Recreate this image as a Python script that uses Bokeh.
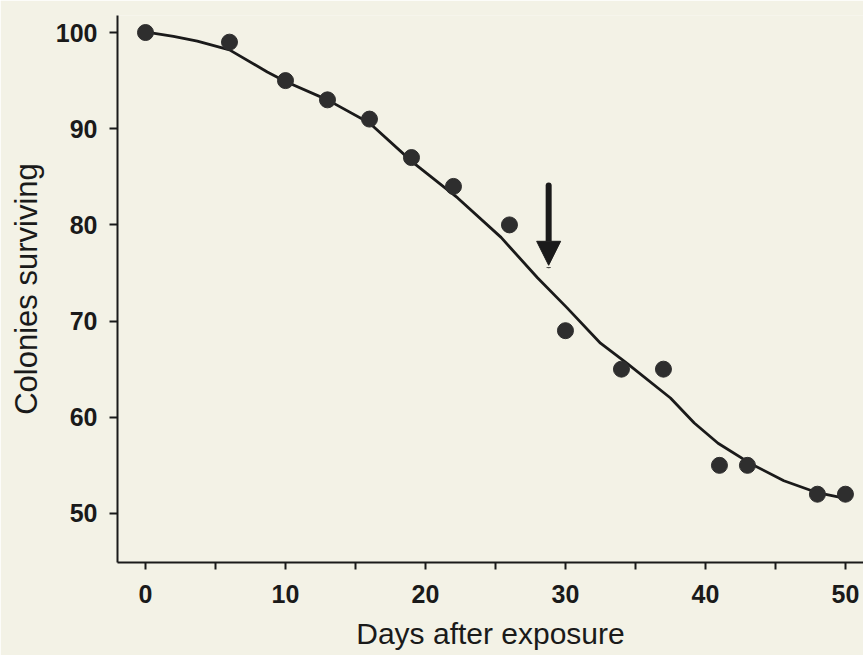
from bokeh.plotting import figure
from bokeh.models import Range1d, FixedTicker, Arrow, NormalHead
from bokeh.embed import file_html
from bokeh.resources import INLINE

# Observed data
days = [0, 6, 10, 13, 16, 19, 22, 26, 30, 34, 37, 41, 43, 48, 50]
surviving = [100, 99, 95, 93, 91, 87, 84, 80, 69, 65, 65, 55, 55, 52, 52]

# Fitted curve
fit_x = [0.3, 2.0, 3.7, 6, 8.7, 10, 13, 16, 19.1, 22.3, 25.4, 28.0, 30.1, 32.5, 34.4,
         37.5, 39.2, 40.9, 43.2, 45.6, 47.9, 49.9]
fit_y = [100, 99.6, 99.1, 98.2, 95.9, 94.9, 93.0, 90.6, 86.5, 82.8, 78.7, 74.5, 71.4,
         67.7, 65.6, 62.0, 59.4, 57.3, 55.2, 53.4, 52.2, 51.6]

# Arrow marker
arrow_x = 28.8
arrow_top = 84.1
arrow_tip = 75.8

x_ticks = [0, 10, 20, 30, 40, 50]
x_minor = [5, 15, 25, 35, 45]
y_ticks = [50, 60, 70, 80, 90, 100]

BG = "#f3f2e6"
INK = "#1a1a1a"

p = figure(width=863, height=655, output_backend="svg", toolbar_location=None,
           x_range=Range1d(-2.0, 51.29), y_range=Range1d(44.9, 101.77),
           min_border_left=117, min_border_right=0, min_border_top=15,
           min_border_bottom=93)
p.background_fill_color = BG
p.border_fill_color = BG
p.outline_line_color = None
p.grid.visible = False

p.line(fit_x, fit_y, line_color=INK, line_width=2.8, line_join="round")
p.scatter(days, surviving, size=16, fill_color="#2e2e2e", line_color="#2e2e2e")

p.add_layout(Arrow(end=NormalHead(size=24, fill_color=INK, line_color=INK, line_width=1),
                   x_start=arrow_x, y_start=arrow_top, x_end=arrow_x, y_end=arrow_tip,
                   line_color=INK, line_width=6, line_cap="round"))

for ax in (p.xaxis[0], p.yaxis[0]):
    ax.axis_line_color = INK
    ax.axis_line_width = 2
    ax.major_tick_line_color = INK
    ax.major_tick_line_width = 2
    ax.major_tick_in = 0
    ax.major_label_text_font = "Liberation Sans"
    ax.major_label_text_font_style = "bold"
    ax.major_label_text_font_size = "25px"
    ax.major_label_text_color = INK
    ax.axis_label_text_font = "Liberation Sans"
    ax.axis_label_text_font_style = "normal"
    ax.axis_label_text_color = INK

xa = p.xaxis[0]
xa.ticker = FixedTicker(ticks=x_ticks, minor_ticks=x_minor)
xa.major_tick_out = 7
xa.minor_tick_out = 7
xa.minor_tick_in = 0
xa.minor_tick_line_color = INK
xa.minor_tick_line_width = 2
xa.major_label_standoff = 15
xa.axis_label = "Days after exposure"
xa.axis_label_text_font_size = "30px"
xa.axis_label_standoff = 11

ya = p.yaxis[0]
ya.ticker = FixedTicker(ticks=y_ticks)
ya.major_tick_out = 8
ya.minor_tick_line_color = None
ya.major_label_standoff = 12
ya.axis_label = "Colonies surviving"
ya.axis_label_text_font_size = "31px"
ya.axis_label_standoff = 9

open("out.html", "w").write(file_html(p, INLINE))
